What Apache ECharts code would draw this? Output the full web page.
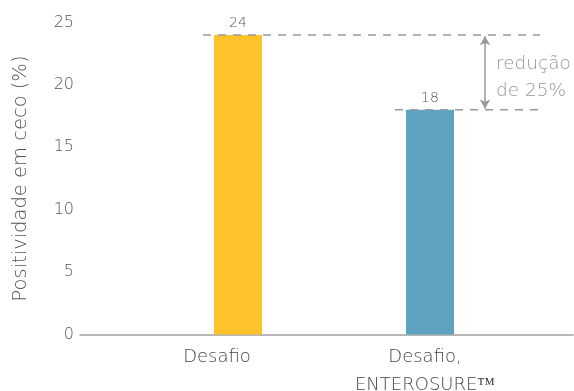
<!DOCTYPE html>
<html>
<head>
<meta charset="utf-8">
<script src="https://cdn.jsdelivr.net/npm/echarts@6/dist/echarts.min.js"></script>
<style>html,body{margin:0;padding:0;background:#fff}#c{width:574px;height:391px}</style>
</head>
<body>
<div id="c"></div>
<script>
const categories = ['Desafio', 'Desafio,\nENTEROSURE™'];
const values = [24, 18];
const barColors = ['#FEC22A', '#60A3C1'];
const yTicks = [0, 5, 10, 15, 20, 25];
const yAxisTitle = 'Positividade em ceco (%)';

const reduction = Math.round((values[0] - values[1]) / values[0] * 100);
const reductionText = 'redução\nde ' + reduction + '%';

// layout (pixels)
const W = 574, H = 391;
const TOP = 22.5, BOTTOM = 56.5;
const BAR_LEFT = 142, BAR_RIGHT = 48;      // grid holding the bars
const AXIS_LEFT = 80, AXIS_RIGHT = 1;      // wide grid holding axis line & annotations
const band = (W - BAR_LEFT - BAR_RIGHT) / categories.length;
const c1 = BAR_LEFT + band / 2;
const xMin = 1 - (c1 - AXIS_LEFT) / band;
const xMax = 1 + (W - AXIS_RIGHT - c1) / band;
const px = p => 1 + (p - c1) / band;       // pixel -> wide-axis value
const dashStart = [px(203), px(395)];
const dashEnd = px(540);
const arrowX = px(485);
const textX = px(496);
const labelShift = [42, 10];               // right padding to nudge category labels left

const font = 'DejaVu Sans';
const W8 = 200;
const chart = echarts.init(document.getElementById('c'));
chart.setOption({
  animation: false,
  textStyle: { fontFamily: font },
  grid: [
    { left: BAR_LEFT, right: BAR_RIGHT, top: TOP, bottom: BOTTOM, containLabel: false, outerBoundsMode: 'none' },
    { left: AXIS_LEFT, right: AXIS_RIGHT, top: TOP, bottom: BOTTOM, containLabel: false, outerBoundsMode: 'none' }
  ],
  xAxis: [
    { type: 'category', gridIndex: 0,
      data: categories.map((c, i) => ({ value: c, textStyle: { padding: [0, labelShift[i], 0, 0] } })),
      axisLine: { show: false }, axisTick: { show: false },
      axisLabel: { color: '#444', fontSize: 18, fontWeight: W8, fontFamily: font, margin: 9, lineHeight: 28 } },
    { type: 'value', gridIndex: 1, min: xMin, max: xMax,
      axisLine: { show: true, lineStyle: { color: '#a0a0a0', width: 1.5 } },
      axisTick: { show: false }, axisLabel: { show: false }, splitLine: { show: false } }
  ],
  yAxis: [
    { type: 'value', gridIndex: 0, min: 0, max: 25, interval: 5, offset: BAR_LEFT - AXIS_LEFT,
      name: yAxisTitle, nameLocation: 'middle', nameGap: 49,
      nameTextStyle: { color: '#555', fontSize: 19.5, fontWeight: W8, fontFamily: font },
      axisLine: { show: false }, axisTick: { show: false }, splitLine: { show: false },
      axisLabel: { color: '#555', fontSize: 16, fontWeight: W8, fontFamily: font, margin: 6,
        customValues: yTicks } },
    { type: 'value', gridIndex: 1, min: 0, max: 25, show: false }
  ],
  series: [
    { type: 'bar', xAxisIndex: 0, yAxisIndex: 0, barWidth: 48,
      data: values.map((v, i) => ({ value: v, itemStyle: { color: barColors[i] } })),
      label: { show: true, position: 'top', distance: 5, color: '#555', fontSize: 14, fontWeight: W8, fontFamily: font },
      z: 2 },
    { type: 'line', xAxisIndex: 1, yAxisIndex: 1, symbol: 'none', silent: true, z: 3,
      data: [[dashStart[0], values[0]], [dashEnd, values[0]]],
      lineStyle: { color: '#999', width: 1.5, type: [8, 7] } },
    { type: 'line', xAxisIndex: 1, yAxisIndex: 1, symbol: 'none', silent: true, z: 3,
      data: [[dashStart[1], values[1]], [dashEnd, values[1]]],
      lineStyle: { color: '#999', width: 1.5, type: [8, 7] } },
    { type: 'scatter', xAxisIndex: 1, yAxisIndex: 1, symbolSize: 0, silent: true,
      data: [[textX, (values[0] + values[1]) / 2]],
      label: { show: true, position: 'right', distance: 0, offset: [0, 5], formatter: reductionText,
        color: '#7a7a7a', fontSize: 18.5, fontWeight: W8, fontFamily: font, lineHeight: 27 },
      markLine: { silent: true, symbol: ['arrow', 'arrow'], symbolSize: [8, 9],
        label: { show: false },
        lineStyle: { color: '#999', width: 1.5, type: 'solid' },
        data: [[{ coord: [arrowX, values[0] - 0.1] }, { coord: [arrowX, values[1] + 0.1] }]] } }
  ]
});
</script>
</body>
</html>
